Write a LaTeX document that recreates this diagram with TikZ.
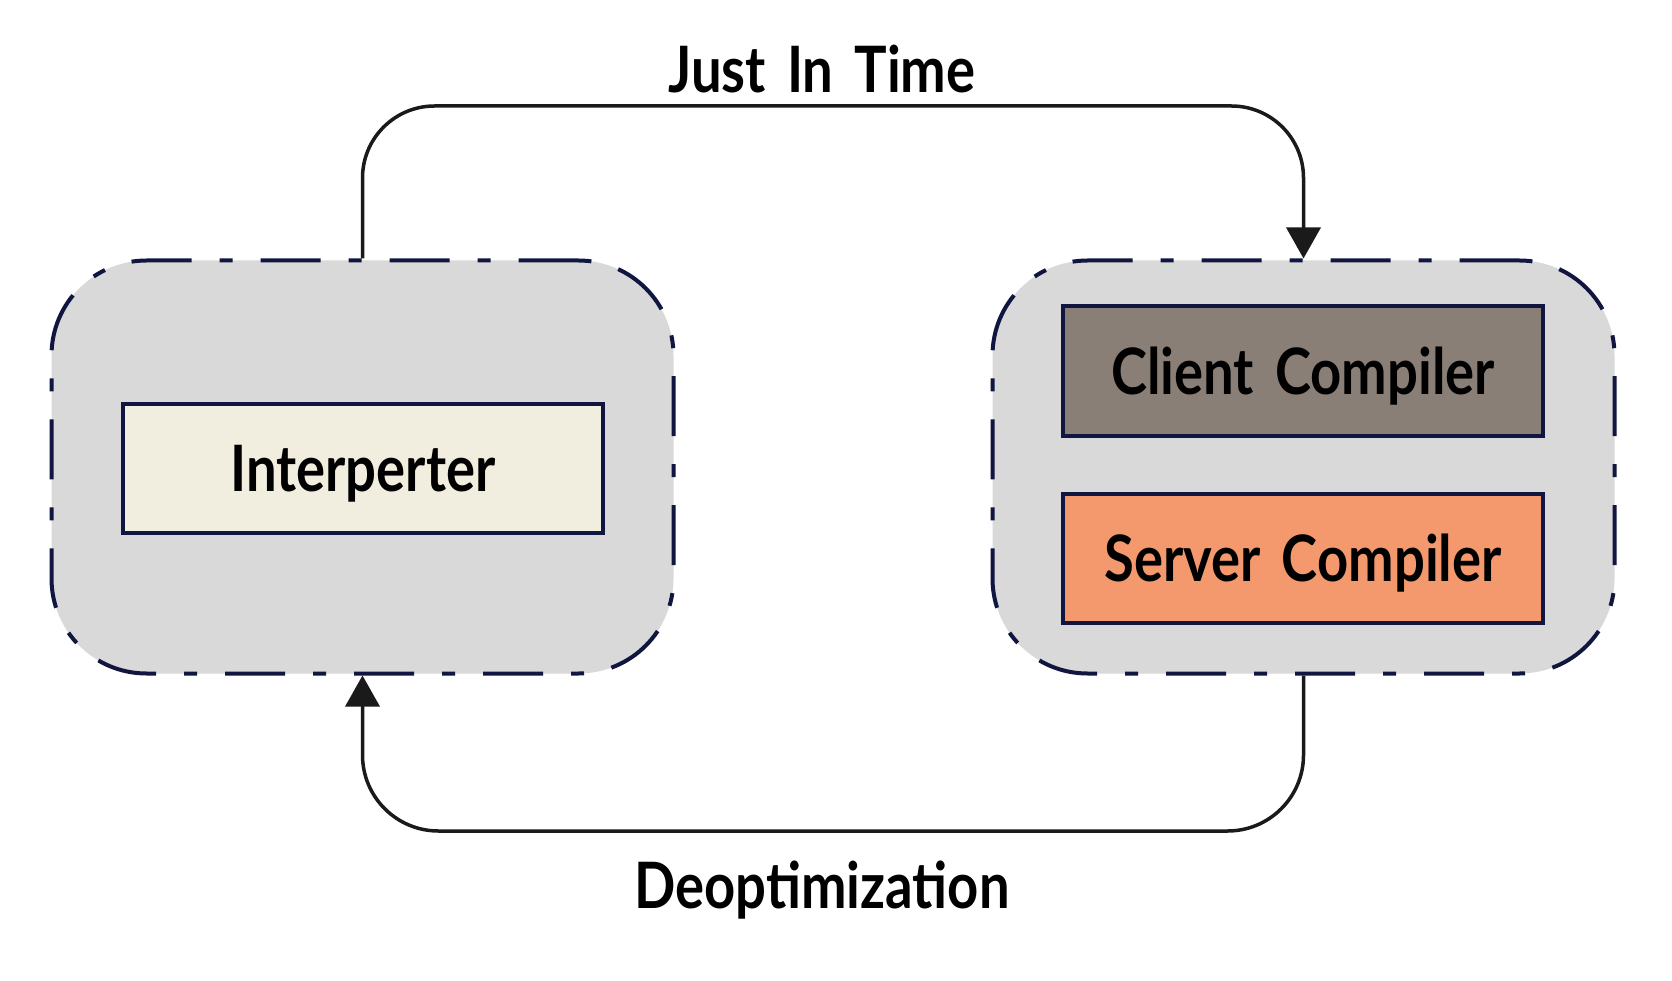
\documentclass[tikz,border=0pt]{standalone}
\usepackage{fontspec}
\setmainfont{Lato}[FakeStretch=0.85,WordSpace=1.6,BoldFont=* Bold]
\usetikzlibrary{arrows.meta}
\definecolor{navy}{HTML}{10163F}
\definecolor{contfill}{HTML}{D9D9D9}
\definecolor{interfill}{HTML}{F2EEDF}
\definecolor{clientfill}{HTML}{8A7F76}
\definecolor{serverfill}{HTML}{F4996D}
\definecolor{ink}{HTML}{1A1A1A}
\begin{document}
\begin{tikzpicture}[x=1pt,y=-1pt,
  container/.style={draw=navy, fill=contfill, line width=4pt, rounded corners=95pt,
    dash pattern=on 60pt off 28pt on 13pt off 28pt,
    minimum width=622pt, minimum height=413pt, inner sep=0pt},
  unitbox/.style={draw=navy, line width=4pt, minimum width=480pt, minimum height=129pt,
    inner sep=0pt, text height=46pt, text depth=0pt,
    font=\fontsize{64}{64}\selectfont\bfseries, text=black},
  conn/.style={draw=ink, line width=3.5pt},
  tip/.style={-{Triangle[length=31pt,width=34pt]}},
  lbl/.style={font=\fontsize{64}{64}\selectfont\bfseries, text=black, inner sep=0pt}
]
\useasboundingbox (0,0) rectangle (1672,981);
\fill[white] (0,0) rectangle (1672,981);

\node[container] (left) at (362.5,467) {};
\node[container] (right) at (1303.5,467) {};

\node[unitbox, fill=interfill] (interp) at (363,468) {Interperter};
\node[unitbox, fill=clientfill] (client) at (1303,371) {Client Compiler};
\node[unitbox, fill=serverfill] (server) at (1303,558) {Server Compiler};

\coordinate (topy) at (0,106);
\coordinate (boty) at (0,831);

\draw[conn, tip, rounded corners=72pt] (left.north) -- (left.north |- topy) -- (right.north |- topy) -- (right.north);
\draw[conn, tip, rounded corners=76pt] (right.south) -- (right.south |- boty) -- (left.south |- boty) -- (left.south);

\node[lbl, anchor=base] (jit) at (822,93) {Just In Time};
\node[lbl, anchor=base] (deopt) at (822,908) {Deoptimization};
\end{tikzpicture}
\end{document}
